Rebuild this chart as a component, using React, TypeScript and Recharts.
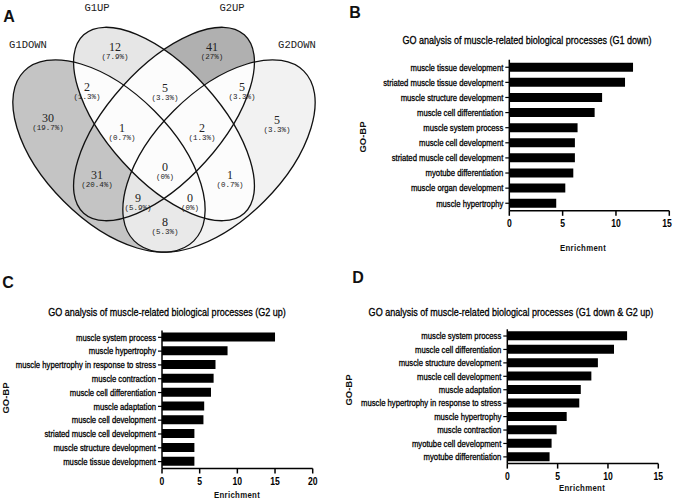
import React from 'react';
import { BarChart, Bar, XAxis, YAxis } from 'recharts';

// ---- Venn data (A) ----
const vennSets = ['G1DOWN', 'G1UP', 'G2UP', 'G2DOWN'];
// membership code: G1DOWN, G1UP, G2UP, G2DOWN
const vennRegions = ['1000', '0100', '0010', '0001', '1100', '0110', '0011', '1110', '0111', '1010', '0101', '1111', '1011', '1101', '1001'];
const vennCounts = [30, 12, 41, 5, 2, 5, 5, 1, 2, 31, 1, 0, 9, 0, 8];

// ---- GO bar data (B, C, D) ----
const termsB = [
    'muscle tissue development',
    'striated muscle tissue development',
    'muscle structure development',
    'muscle cell differentiation',
    'muscle system process',
    'muscle cell development',
    'striated muscle cell development',
    'myotube differentiation',
    'muscle organ development',
    'muscle hypertrophy',
];
const enrichB = [11.6, 10.85, 8.7, 8.0, 6.4, 6.15, 6.15, 6.0, 5.25, 4.4];

const termsC = [
    'muscle system process',
    'muscle hypertrophy',
    'muscle hypertrophy in response to stress',
    'muscle contraction',
    'muscle cell differentiation',
    'muscle adaptation',
    'muscle cell development',
    'striated muscle cell development',
    'muscle structure development',
    'muscle tissue development',
];
const enrichC = [15.0, 8.7, 7.1, 6.85, 6.5, 5.6, 5.5, 4.3, 4.3, 4.3];

const termsD = [
    'muscle system process',
    'muscle cell differentiation',
    'muscle structure development',
    'muscle cell development',
    'muscle adaptation',
    'muscle hypertrophy in response to stress',
    'muscle hypertrophy',
    'muscle contraction',
    'myotube cell development',
    'myotube differentiation',
];
const enrichD = [11.9, 10.6, 9.0, 8.35, 7.3, 7.15, 5.9, 4.9, 4.4, 4.2];

const ticks15 = [0, 5, 10, 15];
const ticks20 = [0, 5, 10, 15, 20];

// Arial Narrow look: Liberation Sans squeezed horizontally
const SANS = '"Liberation Sans", Arial, sans-serif';
const MONO = '"Liberation Mono", "DejaVu Sans Mono", monospace';
const SERIF = '"Liberation Serif", "DejaVu Serif", serif';
const NARROW = 0.82;

// venn layout
const ellipses = [
    { cx: 109, cy: 156, rx: 120, ry: 64, rot: 45 },
    { cx: 164, cy: 124, rx: 120, ry: 56, rot: 48 },
    { cx: 164, cy: 124, rx: 120, ry: 56, rot: -48 },
    { cx: 219, cy: 156, rx: 120, ry: 64, rot: -45 },
];
const setLabelPos = [[28, 45], [97, 8], [232, 8], [297, 45]];
const regionPos: Record<string, number[]> = {
    '1000': [48, 118], '0100': [115, 47], '0010': [212, 47], '0001': [277, 120],
    '1100': [87, 87], '0110': [165, 88], '0011': [242, 87], '1110': [122, 128],
    '0111': [202, 128], '1010': [97, 175], '0101': [230, 175], '1111': [165, 167],
    '1011': [138, 198], '1101': [190, 198], '1001': [165, 222],
};
const regionFill: Record<string, string> = {
    '1000': '#c4c4c4', '1010': '#c4c4c4', '0010': '#b0b0b0', '0100': '#e6e6e6',
    '1011': '#e6e6e6', '1001': '#e9e9e9', '0001': '#f2f2f2',
};

const total = vennCounts.reduce((a, b) => a + b, 0);
const pctLabel = (n: number) => {
    const p = Math.round((n / total) * 1000) / 10;
    return `(${p}%)`;
};

function Venn() {
    return (
        <svg width={340} height={255} style={{ position: 'absolute', left: 0, top: 0 }}>
            <defs>
                {ellipses.map((e, i) => (
                    <clipPath id={`vc${i}`} key={i}>
                        <ellipse cx={e.cx} cy={e.cy} rx={e.rx} ry={e.ry} transform={`rotate(${e.rot} ${e.cx} ${e.cy})`} />
                    </clipPath>
                ))}
                {vennRegions.map((code) => (
                    <mask id={`vm${code}`} key={code} maskUnits="userSpaceOnUse" x={0} y={0} width={340} height={255}>
                        <rect x={0} y={0} width={340} height={255} fill="white" />
                        {ellipses.map((e, i) =>
                            code[i] === '0' ? (
                                <ellipse key={i} cx={e.cx} cy={e.cy} rx={e.rx} ry={e.ry} fill="black" transform={`rotate(${e.rot} ${e.cx} ${e.cy})`} />
                            ) : null
                        )}
                    </mask>
                ))}
            </defs>
            {vennRegions.map((code) => {
                let node: React.ReactNode = (
                    <rect x={0} y={0} width={340} height={255} fill={regionFill[code] || '#fcfcfc'} mask={`url(#vm${code})`} />
                );
                code.split('').forEach((c, i) => {
                    if (c === '1') node = <g clipPath={`url(#vc${i})`}>{node}</g>;
                });
                return <g key={code}>{node}</g>;
            })}
            {ellipses.map((e, i) => (
                <ellipse key={i} cx={e.cx} cy={e.cy} rx={e.rx} ry={e.ry} fill="none" stroke="#111" strokeWidth={1.3}
                    transform={`rotate(${e.rot} ${e.cx} ${e.cy})`} />
            ))}
            {vennSets.map((s, i) => (
                <text key={s} x={setLabelPos[i][0]} y={setLabelPos[i][1]} textAnchor="middle" dominantBaseline="central"
                    fontFamily={MONO} fontSize={10.5} fill="#222">{s}</text>
            ))}
            {vennRegions.map((code, i) => (
                <g key={code}>
                    <text x={regionPos[code][0]} y={regionPos[code][1]} textAnchor="middle" dominantBaseline="central"
                        fontFamily={SERIF} fontSize={12} fill="#222">{vennCounts[i]}</text>
                    <text x={regionPos[code][0]} y={regionPos[code][1] + 10} textAnchor="middle" dominantBaseline="central"
                        fontFamily={MONO} fontSize={7.5} fill="#222">{pctLabel(vennCounts[i])}</text>
                </g>
            ))}
        </svg>
    );
}

function TermTick(props: any) {
    const { x, y, payload } = props;
    return (
        <g transform={`translate(${x},${y})`}>
            <text transform={`scale(${NARROW},1)`} textAnchor="end" dominantBaseline="central"
                fontFamily={SANS} fontSize={9.4} fill="#000" stroke="#000" strokeWidth={0.3}>{payload.value}</text>
        </g>
    );
}

function NumTick(props: any) {
    const { x, y, payload } = props;
    return (
        <g transform={`translate(${x},${y})`}>
            <text transform={`scale(${NARROW},1)`} y={5.5} textAnchor="middle" dominantBaseline="central"
                fontFamily={SANS} fontSize={10.5} fontWeight="bold" fill="#000">{payload.value}</text>
        </g>
    );
}

interface GoPanelProps {
    terms: string[];
    values: number[];
    ticks: number[];
    box: { left: number; top: number; width: number; height: number };
    plot: { x0: number; x1: number; y0: number; y1: number };
}

function GoPanel({ terms, values, ticks, box, plot }: GoPanelProps) {
    const data = terms.map((t, i) => ({ term: t, value: values[i] }));
    const xH = 20;
    const margin = {
        top: plot.y0 - box.top,
        left: 0,
        right: box.left + box.width - plot.x1,
        bottom: box.top + box.height - plot.y1 - xH,
    };
    return (
        <div style={{ position: 'absolute', left: box.left, top: box.top }}>
            <BarChart layout="vertical" width={box.width} height={box.height} data={data} margin={margin} barSize={9}>
                <XAxis type="number" domain={[0, ticks[ticks.length - 1]]} ticks={ticks} height={xH}
                    axisLine={{ stroke: '#000', strokeWidth: 1.5 }} tickLine={{ stroke: '#000', strokeWidth: 1.5 }}
                    tickSize={5} tickMargin={2} tick={(p: any) => <NumTick {...p} />} />
                <YAxis type="category" dataKey="term" width={plot.x0 - box.left} interval={0}
                    axisLine={{ stroke: '#000', strokeWidth: 1.5 }} tickLine={{ stroke: '#000', strokeWidth: 1.2 }}
                    tickSize={4} tickMargin={2} tick={(p: any) => <TermTick {...p} />} />
                <Bar dataKey="value" fill="#000" isAnimationActive={false} />
            </BarChart>
        </div>
    );
}

const abs = (x: number, y: number, extra: React.CSSProperties = {}, tf = ''): React.CSSProperties => ({
    position: 'absolute', left: x, top: y, transform: `translate(-50%, -50%) ${tf}`, whiteSpace: 'nowrap', lineHeight: 1, ...extra,
});

const letterStyle: React.CSSProperties = { fontFamily: SANS, fontWeight: 'bold', fontSize: 16, color: '#111' };
const titleStyle: React.CSSProperties = { fontFamily: SANS, fontSize: 11, color: '#000', WebkitTextStroke: '0.3px #000' };
const axisTitleStyle: React.CSSProperties = { fontFamily: SANS, fontSize: 9.5, fontWeight: 'bold', color: '#111', letterSpacing: 0.4 };
const goStyle: React.CSSProperties = { fontFamily: SANS, fontSize: 9.5, fontWeight: 'bold', color: '#111' };
const narrowTf = `scaleX(${NARROW})`;

export default function App() {
    return (
        <div style={{ position: 'absolute', left: 0, top: 0, width: 675, height: 499, background: '#fff', overflow: 'hidden' }}>
            <Venn />
            <div style={abs(9, 17, letterStyle)}>A</div>

            {/* B */}
            <div style={abs(355, 13, letterStyle)}>B</div>
            <div style={abs(526.5, 40, titleStyle, narrowTf)}>GO analysis of muscle-related biological processes (G1 down)</div>
            <div style={abs(363, 137, goStyle, 'rotate(-90deg)')}>GO-BP</div>
            <div style={abs(583, 248, axisTitleStyle, narrowTf)}>Enrichment</div>
            <GoPanel terms={termsB} values={enrichB} ticks={ticks15}
                box={{ left: 340, top: 0, width: 335, height: 235 }}
                plot={{ x0: 509.3, x1: 669.3, y0: 59.7, y1: 210.8 }} />

            {/* C */}
            <div style={abs(8, 283, letterStyle)}>C</div>
            <div style={abs(166.7, 311.7, titleStyle, narrowTf)}>GO analysis of muscle-related biological processes (G2 up)</div>
            <div style={abs(6, 398, goStyle, 'rotate(-90deg)')}>GO-BP</div>
            <div style={abs(237, 495, axisTitleStyle, narrowTf)}>Enrichment</div>
            <GoPanel terms={termsC} values={enrichC} ticks={ticks20}
                box={{ left: 0, top: 250, width: 340, height: 240 }}
                plot={{ x0: 162, x1: 312.7, y0: 330.4, y1: 468.5 }} />

            {/* D */}
            <div style={abs(358, 278, letterStyle)}>D</div>
            <div style={abs(511.3, 312.3, titleStyle, narrowTf)}>GO analysis of muscle-related biological processes (G1 down &amp; G2 up)</div>
            <div style={abs(349, 390, goStyle, 'rotate(-90deg)')}>GO-BP</div>
            <div style={abs(581.7, 488.3, axisTitleStyle, narrowTf)}>Enrichment</div>
            <GoPanel terms={termsD} values={enrichD} ticks={ticks15}
                box={{ left: 340, top: 250, width: 335, height: 240 }}
                plot={{ x0: 507.3, x1: 658.3, y0: 329.3, y1: 463.6 }} />
        </div>
    );
}
